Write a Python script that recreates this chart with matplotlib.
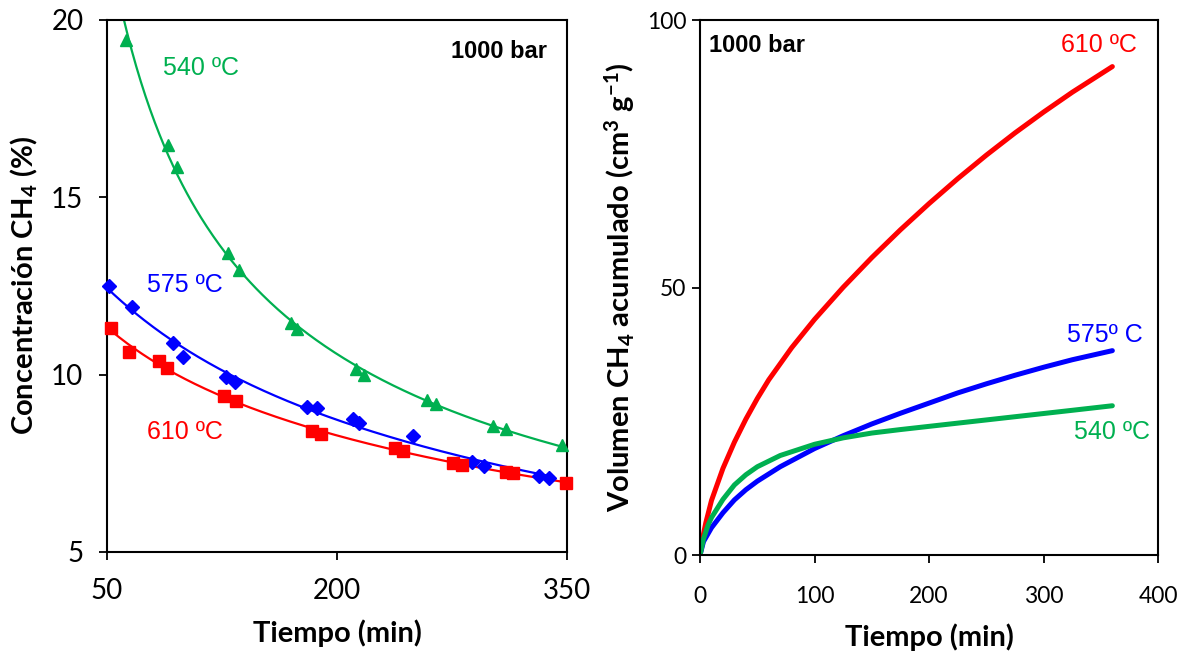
import numpy as np
import matplotlib
matplotlib.use("Agg")
import matplotlib.pyplot as plt

plt.rcParams["font.family"] = ["Lato", "DejaVu Sans"]
plt.rcParams["mathtext.fontset"] = "custom"
plt.rcParams["mathtext.rm"] = "Lato"
plt.rcParams["mathtext.bf"] = "Lato:bold"
plt.rcParams["mathtext.default"] = "bf"

# ---- CH4 concentration vs time (measured points) ----
t_540 = [62.4, 89.8, 95.7, 128.9, 136.1, 170.0, 173.9, 212.4, 217.6, 258.7, 264.6, 301.8, 310.3, 346.8]
c_540 = [19.44, 16.48, 15.86, 13.43, 12.95, 11.46, 11.29, 10.16, 9.99, 9.29, 9.17, 8.55, 8.47, 8.02]

t_575 = [51.3, 66.3, 93.1, 99.6, 127.6, 133.5, 180.5, 187.0, 210.4, 214.4, 249.6, 288.1, 295.9, 331.8, 338.3]
c_575 = [12.50, 11.91, 10.89, 10.50, 9.93, 9.79, 9.09, 9.06, 8.75, 8.64, 8.27, 7.54, 7.43, 7.14, 7.09]

t_610 = [52.6, 64.4, 83.9, 89.1, 126.3, 134.1, 183.7, 189.6, 237.9, 243.1, 275.7, 281.6, 310.3, 314.8, 349.4]
c_610 = [11.32, 10.64, 10.39, 10.19, 9.40, 9.26, 8.41, 8.33, 7.93, 7.85, 7.51, 7.45, 7.26, 7.23, 6.95]

# ---- accumulated CH4 volume vs time ----
tv_610 = [0, 2.5, 5, 10, 20, 30, 40, 50, 60, 80, 100, 125, 150, 175, 200, 225, 250, 275, 300, 325, 360]
v_610 = [0, 3.4, 6.0, 10.2, 16.2, 21.1, 25.4, 29.25, 32.75, 38.75, 44.05, 50.05, 55.6, 60.8,
         65.7, 70.35, 74.75, 78.9, 82.8, 86.5, 91.3]

tv_575 = [0, 3, 10, 20, 30, 40, 50, 70, 100, 125, 150, 175, 200, 225, 250, 275, 300, 325, 360]
v_575 = [0, 2.5, 5.1, 7.9, 10.3, 12.2, 13.8, 16.5, 19.9, 22.3, 24.5, 26.5, 28.4, 30.3, 32.0,
         33.6, 35.1, 36.5, 38.2]

tv_540 = [0, 3, 7, 10, 20, 30, 40, 50, 70, 100, 125, 150, 175, 200, 225, 250, 275, 300, 325, 360]
v_540 = [0, 3.0, 5.6, 7.0, 10.4, 13.1, 15.0, 16.5, 18.6, 20.7, 21.9, 22.8, 23.45, 24.05, 24.65,
         25.25, 25.85, 26.45, 27.05, 27.9]

GREEN = "#00B050"
BLUE = "#0000FF"
RED = "#FF0000"
NOTE_FONT = "Liberation Sans"

fig = plt.figure(figsize=(11.93, 6.59), dpi=100)
ax1 = fig.add_axes([0.0897, 0.1624, 0.3856, 0.8073])
ax2 = fig.add_axes([0.5868, 0.1578, 0.3840, 0.8118])


def trend(x, y, x_end):
    # smooth decay trend: quadratic in log-log space
    coef = np.polyfit(np.log(x), np.log(y), 2)
    xs = np.linspace(50, x_end, 300)
    return xs, np.exp(np.polyval(coef, np.log(xs)))


series = [
    (t_540, c_540, GREEN, "^", 9, 350),
    (t_575, c_575, BLUE, "D", 7, 341),
    (t_610, c_610, RED, "s", 8.5, 350),
]
for x, y, col, mk, ms, x_end in series:
    xs, ys = trend(x, y, x_end)
    ax1.plot(xs, ys, color=col, lw=1.6)
    ax1.plot(x, y, linestyle="none", marker=mk, ms=ms, color=col, clip_on=False, zorder=5)

ax1.set_xlim(50, 350)
ax1.set_ylim(5, 20)
ax1.set_xticks([50, 200, 350])
ax1.set_yticks([5, 10, 15, 20])
ax1.set_xlabel("Tiempo (min)", fontsize=21, fontweight="bold", labelpad=11)
ax1.set_ylabel("Concentración CH$_4$ (%)", fontsize=21, fontweight="bold", labelpad=8)

ax1.text(0.957, 0.94, "1000 bar", transform=ax1.transAxes, ha="right", va="center",
         fontsize=17, fontweight="bold", family=NOTE_FONT)
ax1.text(0.122, 0.91, "540 ºC", transform=ax1.transAxes, color=GREEN, fontsize=18,
         family=NOTE_FONT, va="center")
ax1.text(0.087, 0.502, "575 ºC", transform=ax1.transAxes, color=BLUE, fontsize=18,
         family=NOTE_FONT, va="center")
ax1.text(0.087, 0.226, "610 ºC", transform=ax1.transAxes, color=RED, fontsize=18,
         family=NOTE_FONT, va="center")

ax2.plot(tv_610, v_610, color=RED, lw=3.6, solid_capstyle="round", solid_joinstyle="round")
ax2.plot(tv_575, v_575, color=BLUE, lw=3.6, solid_capstyle="round", solid_joinstyle="round")
ax2.plot(tv_540, v_540, color=GREEN, lw=3.6, solid_capstyle="round", solid_joinstyle="round")

ax2.set_xlim(0, 400)
ax2.set_ylim(0, 100)
ax2.set_xticks([0, 100, 200, 300, 400])
ax2.set_yticks([0, 50, 100])
ax2.set_xlabel("Tiempo (min)", fontsize=21, fontweight="bold", labelpad=12)
ax2.set_ylabel("Volumen CH$_4$ acumulado (cm$^3$ g$^{-1}$)", fontsize=21,
               fontweight="bold", labelpad=7)

ax2.text(0.02, 0.953, "1000 bar", transform=ax2.transAxes, ha="left", va="center",
         fontsize=17, fontweight="bold", family=NOTE_FONT)
ax2.text(0.954, 0.953, "610 ºC", transform=ax2.transAxes, ha="right", va="center",
         color=RED, fontsize=18, family=NOTE_FONT)
ax2.text(0.967, 0.411, "575º C", transform=ax2.transAxes, ha="right", va="center",
         color=BLUE, fontsize=18, family=NOTE_FONT)
ax2.text(0.983, 0.23, "540 ºC", transform=ax2.transAxes, ha="right", va="center",
         color=GREEN, fontsize=18, family=NOTE_FONT)

for ax in (ax1, ax2):
    for sp in ax.spines.values():
        sp.set_linewidth(1.5)
        sp.set_color("black")
    ax.tick_params(direction="out", length=6, width=1.3)
ax1.tick_params(labelsize=20)
ax1.tick_params(axis="x", pad=13)
ax1.tick_params(axis="y", pad=11)
ax2.tick_params(labelsize=16.5)
ax2.tick_params(axis="x", pad=16)
ax2.tick_params(axis="y", pad=4)

fig.savefig("out.png", dpi=100)
